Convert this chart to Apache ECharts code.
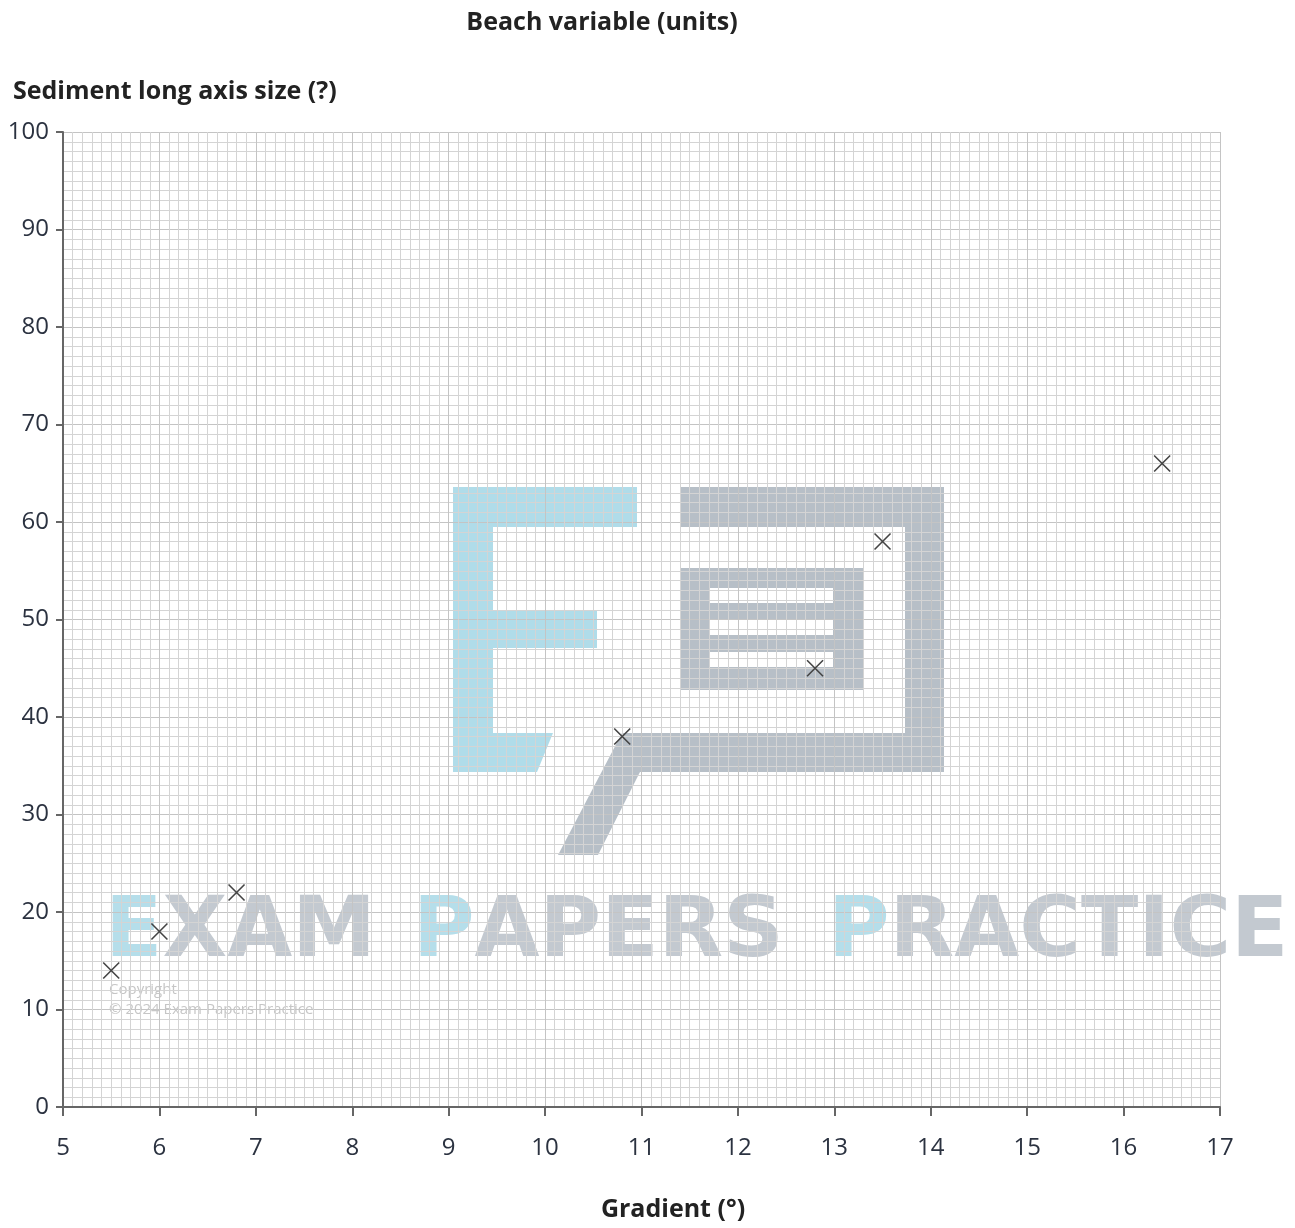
<!DOCTYPE html>
<html>
<head>
<meta charset="utf-8">
<script src="https://cdn.jsdelivr.net/npm/echarts@6/dist/echarts.min.js"></script>
<style>
  html, body { margin: 0; padding: 0; background: #fff; }
  #chart { width: 1295px; height: 1228px; }
</style>
</head>
<body>
<div id="chart"></div>
<script>
// readings from the reference
const gradient = [5.5, 6.0, 6.8, 10.8, 12.8, 13.5, 16.4];
const sedimentSize = [14, 18, 22, 38, 45, 58, 66];
const xRange = [5, 17];
const yRange = [0, 100];

const FONT = "'Open Sans', 'Noto Sans', sans-serif";
const crossPath = 'path://M0,0L10,10M10,0L0,10';

const points = gradient.map((g, i) => [g, sedimentSize[i]]);

const chart = echarts.init(document.getElementById('chart'));

// watermark (decoration only, drawn under the data)
const blue = 'rgba(150,208,225,0.75)';
const grey = 'rgba(135,148,162,0.6)';
const greyText = 'rgba(135,148,162,0.5)';
const wmFont = 'bold 84px "DejaVu Sans", sans-serif';
const rect = (x, y, w, h, fill) => ({type: 'rect', shape: {x: x, y: y, width: w, height: h}, style: {fill: fill}});
const wmWord = (left, text) => ({
    type: 'text', left: left, top: 892,
    style: {
        text: '{b|' + text[0] + '}{g|' + text.slice(1) + '}',
        font: wmFont,
        rich: {b: {fill: 'rgba(150,208,225,0.7)', font: wmFont}, g: {fill: greyText, font: wmFont}}
    }
});
const watermark = [
    // E
    rect(453, 487, 40, 285, blue),
    rect(493, 487, 144, 40, blue),
    rect(493, 610, 104, 38, blue),
    {type: 'polygon', shape: {points: [[493, 733], [553, 733], [537, 772], [493, 772]]}, style: {fill: blue}},
    // speech bubble
    rect(680, 487, 264, 40, grey),
    rect(905, 527, 39, 206, grey),
    {type: 'polygon', shape: {points: [[622, 733], [944, 733], [944, 772], [640, 772], [598, 855], [558, 855]]}, style: {fill: grey}},
    // box with three stripes
    rect(680, 568, 30, 122, grey),
    rect(833, 568, 31, 122, grey),
    rect(710, 568, 123, 20, grey),
    rect(710, 603, 123, 17, grey),
    rect(710, 635, 123, 17, grey),
    rect(710, 667, 123, 23, grey),
    wmWord(105, 'EXAM'),
    wmWord(413, 'PAPERS'),
    wmWord(828, 'PRACTICE'),
    {type: 'text', left: 109, top: 982, style: {text: 'Copyright', fill: 'rgba(160,160,160,0.6)', font: '15px ' + FONT}},
    {type: 'text', left: 109, top: 1002, style: {text: '© 2024 Exam Papers Practice', fill: 'rgba(160,160,160,0.6)', font: '15px ' + FONT}}
].map(el => Object.assign({z: 0, silent: true}, el));

chart.setOption({
    animation: false,
    backgroundColor: '#fff',
    title: [
        {
            text: 'Beach variable (units)', left: 597, top: 5, textAlign: 'center',
            textStyle: {fontFamily: FONT, fontWeight: 'bold', fontSize: 25, color: '#222'}
        },
        {
            text: 'Sediment long axis size (?)', left: 8, top: 74,
            textStyle: {fontFamily: FONT, fontWeight: 'bold', fontSize: 25, color: '#222'}
        },
        {
            text: 'Gradient (°)', left: 668, top: 1192, textAlign: 'center',
            textStyle: {fontFamily: FONT, fontWeight: 'bold', fontSize: 25, color: '#222'}
        }
    ],
    grid: {left: 63, right: 75, top: 132, bottom: 121},
    xAxis: {
        type: 'value', min: xRange[0], max: xRange[1], interval: 1,
        axisLine: {show: true, onZero: false, lineStyle: {color: '#666', width: 2}},
        axisTick: {show: true, length: 9, lineStyle: {color: '#666', width: 2}},
        axisLabel: {margin: 29, fontFamily: FONT, fontSize: 24, color: '#2b3240'},
        splitLine: {show: true, lineStyle: {color: '#c4c4c4', width: 1}},
        minorTick: {show: false, splitNumber: 10},
        minorSplitLine: {show: true, lineStyle: {color: '#d4d4d4', width: 1}}
    },
    yAxis: {
        type: 'value', min: yRange[0], max: yRange[1], interval: 10,
        axisLine: {show: true, onZero: false, lineStyle: {color: '#666', width: 2}},
        axisTick: {show: true, length: 7, lineStyle: {color: '#666', width: 2}},
        axisLabel: {margin: 14, fontFamily: FONT, fontSize: 24, color: '#2b3240'},
        splitLine: {show: true, lineStyle: {color: '#c4c4c4', width: 1}},
        minorTick: {show: false, splitNumber: 10},
        minorSplitLine: {show: true, lineStyle: {color: '#d4d4d4', width: 1}}
    },
    graphic: watermark,
    series: [{
        type: 'scatter',
        z: 10,
        data: points,
        symbol: crossPath,
        symbolSize: 16,
        itemStyle: {color: 'transparent', borderColor: '#444', borderWidth: 1.6, opacity: 1}
    }]
});
</script>
</body>
</html>
